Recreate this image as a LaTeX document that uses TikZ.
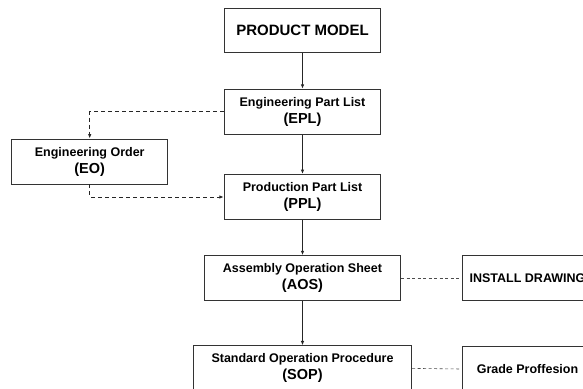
\documentclass[tikz,border=0pt]{standalone}
\usepackage{fontspec}
\setmainfont{Liberation Sans}
\usetikzlibrary{arrows.meta}
\begin{document}
\begin{tikzpicture}[x=1pt,y=-1pt,
  box/.style={draw=black!80, line width=0.9pt, minimum height=45pt, inner sep=0pt, align=center,
    font=\bfseries\fontsize{12.5}{17}\selectfont},
  flow/.style={draw=black!85, line width=0.9pt, -{Latex[length=4.5pt,width=3.5pt]}},
  dflow/.style={draw=black!85, line width=0.9pt, dash pattern=on 4pt off 3pt, -{Latex[length=4.5pt,width=3.5pt]}},
  link/.style={draw=black!70, line width=0.6pt, dash pattern=on 3pt off 2.5pt}]
\useasboundingbox (0,0) rectangle (583,388);
\node[box, minimum width=156.5pt, minimum height=44.5pt, font=\bfseries\fontsize{15}{18}\selectfont] (pm) at (302.5,30.5) {PRODUCT MODEL};
\node[box, minimum width=156.5pt] (epl) at (302.5,111.8) {Engineering Part List\\{\fontsize{14.5}{17}\selectfont (EPL)}};
\node[box, minimum width=156pt] (eo) at (89.7,161.5) {Engineering Order\\{\fontsize{14.5}{17}\selectfont (EO)}};
\node[box, minimum width=156.5pt] (ppl) at (302.5,197) {Production Part List\\{\fontsize{14.5}{17}\selectfont (PPL)}};
\node[box, minimum width=196.5pt] (aos) at (302.5,278.2) {Assembly Operation Sheet\\{\fontsize{14.5}{17}\selectfont (AOS)}};
\node[box, minimum width=218.5pt] (sop) at (302.5,368.4) {Standard Operation Procedure\\{\fontsize{14.5}{17}\selectfont (SOP)}};
\node[box, minimum width=131pt] (idr) at (527.5,278.2) {INSTALL DRAWING};
\node[box, minimum width=131pt] (gp) at (527.5,369) {Grade Proffesion};
\draw[flow] (pm) -- (epl);
\draw[flow] (epl) -- (ppl);
\draw[flow] (ppl) -- (aos);
\draw[flow] (aos) -- (sop);
\draw[dflow] (epl.west) -| (eo.north);
\draw[dflow] (eo.south) |- (ppl.west);
\draw[link] (aos.east) -- (idr.west);
\draw[link] (sop.east) -- (gp.west);
\end{tikzpicture}
\end{document}
